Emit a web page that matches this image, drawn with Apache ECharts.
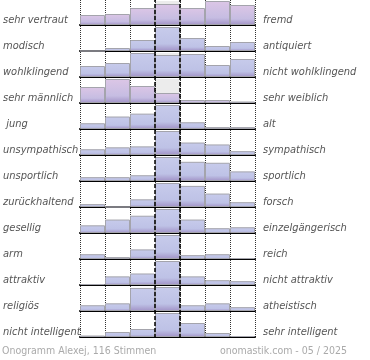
<!DOCTYPE html>
<html><head><meta charset="utf-8">
<script src="https://cdn.jsdelivr.net/npm/echarts@6/dist/echarts.min.js"></script>
<style>html,body{margin:0;padding:0;background:#fff}#c{width:370px;height:360px}</style>
</head><body><div id="c"></div>
<script>
const leftLabels = ['sehr vertraut','modisch','wohlklingend','sehr männlich',' jung','unsympathisch','unsportlich','zurückhaltend','gesellig','arm','attraktiv','religiös','nicht intelligent'];
const rightLabels = ['fremd','antiquiert','nicht wohlklingend','sehr weiblich','alt','sympathisch','sportlich','forsch','einzelgängerisch','reich','nicht attraktiv','atheistisch','sehr intelligent'];
const steps = ['1','2','3','4','5','6','7'];
const r01 = [10,11,17,21,17,24,20];
const r02 = [0,3,11,24,13,5,9];
const r03 = [11,14,24,22,23,12,18];
const r04 = [16,24,17,10,3,3,1.5];
const r05 = [6,13,16,25,7,2,2];
const r06 = [6,8,9,25,13,11,4];
const r07 = [4,4,6,25,20,19,10];
const r08 = [3,0,8,25,22,14,5];
const r09 = [8,14,18,25,14,5,6];
const r10 = [5,2,10,25,4,5,1];
const r11 = [1,9,12,25,9,5,4];
const r12 = [6,8,24,25,6,8,4];
const r13 = [1.5,5,8,24,14,4,1];
const rows = [r01,r02,r03,r04,r05,r06,r07,r08,r09,r10,r11,r12,r13];
const pinkRows = [0,3];
const footLeft = 'Onogramm Alexej, 116 Stimmen';
const footRight = 'onomastik.com - 05 / 2025';

const FONT = '"DejaVu Sans Condensed", "DejaVu Sans", sans-serif';
const N = rows.length;
const grid = [], xAxis = [], yAxis = [], series = [];
function grad(pink){
  return new echarts.graphic.LinearGradient(0,0,0,1,[
    {offset:0,color: pink ? '#dcc6e6' : '#c7cbeb'},
    {offset:0.7,color: pink ? '#c6bde2' : '#bec2e6'},
    {offset:1,color:'#a192c6'}
  ]);
}
const none = 'rgba(0,0,0,0)';
rows.forEach((vals,i)=>{
  grid.push({left:80,width:175,top:1+26*i,height:24});
  xAxis.push({type:'category',gridIndex:i,data:steps,boundaryGap:true,
    axisLine:{show:true,lineStyle:{color:'#000',width:2}},axisTick:{show:false},axisLabel:{show:false},
    splitLine:{show:false},
    splitArea:{show:true,areaStyle:{color:[none,none,none,'#ececec',none,none,none]}}});
  yAxis.push({type:'value',gridIndex:i,min:0,max:'dataMax',show:false});
  series.push({type:'bar',xAxisIndex:i,yAxisIndex:i,data:vals,barWidth:'100%',silent:true,z:2,
    itemStyle:{color:grad(pinkRows.includes(i)),borderColor:'#a4a4ac',borderWidth:1}});
});
// overlay grid for vertical guide lines
grid.push({left:80,width:175,top:0,height:338});
xAxis.push({type:'value',gridIndex:N,min:0,max:7,interval:1,
  axisLine:{show:false},axisTick:{show:false},axisLabel:{show:false},
  splitLine:{show:true,lineStyle:{color:'#333',type:[1,1],width:1}}});
yAxis.push({type:'value',gridIndex:N,min:0,max:1,show:false});
series.push({type:'line',xAxisIndex:N,yAxisIndex:N,data:[],z:10,silent:true,
  markLine:{symbol:['none','none'],silent:true,label:{show:false},animation:false,
    lineStyle:{color:'#000',type:[4,2],width:1.5},data:[{xAxis:3},{xAxis:4}]}});
// label grid (shifted so labels sit near each row's baseline)
grid.push({left:80,width:175,top:7,height:338});
xAxis.push({type:'value',gridIndex:N+1,min:0,max:7,show:false});
const lblStyle = {fontStyle:'italic',color:'#555',fontSize:11,fontFamily:FONT,align:'left'};
yAxis.push({type:'category',gridIndex:N+1,data:leftLabels,inverse:true,position:'left',
  axisLine:{show:false},axisTick:{show:false},splitLine:{show:false},
  axisLabel:Object.assign({margin:81},lblStyle)});
yAxis.push({type:'category',gridIndex:N+1,data:rightLabels,inverse:true,position:'right',
  axisLine:{show:false},axisTick:{show:false},splitLine:{show:false},
  axisLabel:Object.assign({margin:8},lblStyle)});

const chart = echarts.init(document.getElementById('c'),null,{renderer:'canvas'});
chart.setOption({
  animation:false,
  title:[
    {text:footLeft,left:0,top:346,padding:[0,2],textStyle:{fontSize:10.5,color:'#aaa',fontWeight:'normal',fontFamily:FONT}},
    {text:footRight,right:23,top:346,padding:0,textStyle:{fontSize:10.5,color:'#aaa',fontWeight:'normal',fontFamily:FONT}}
  ],
  grid, xAxis, yAxis, series
});
</script></body></html>
